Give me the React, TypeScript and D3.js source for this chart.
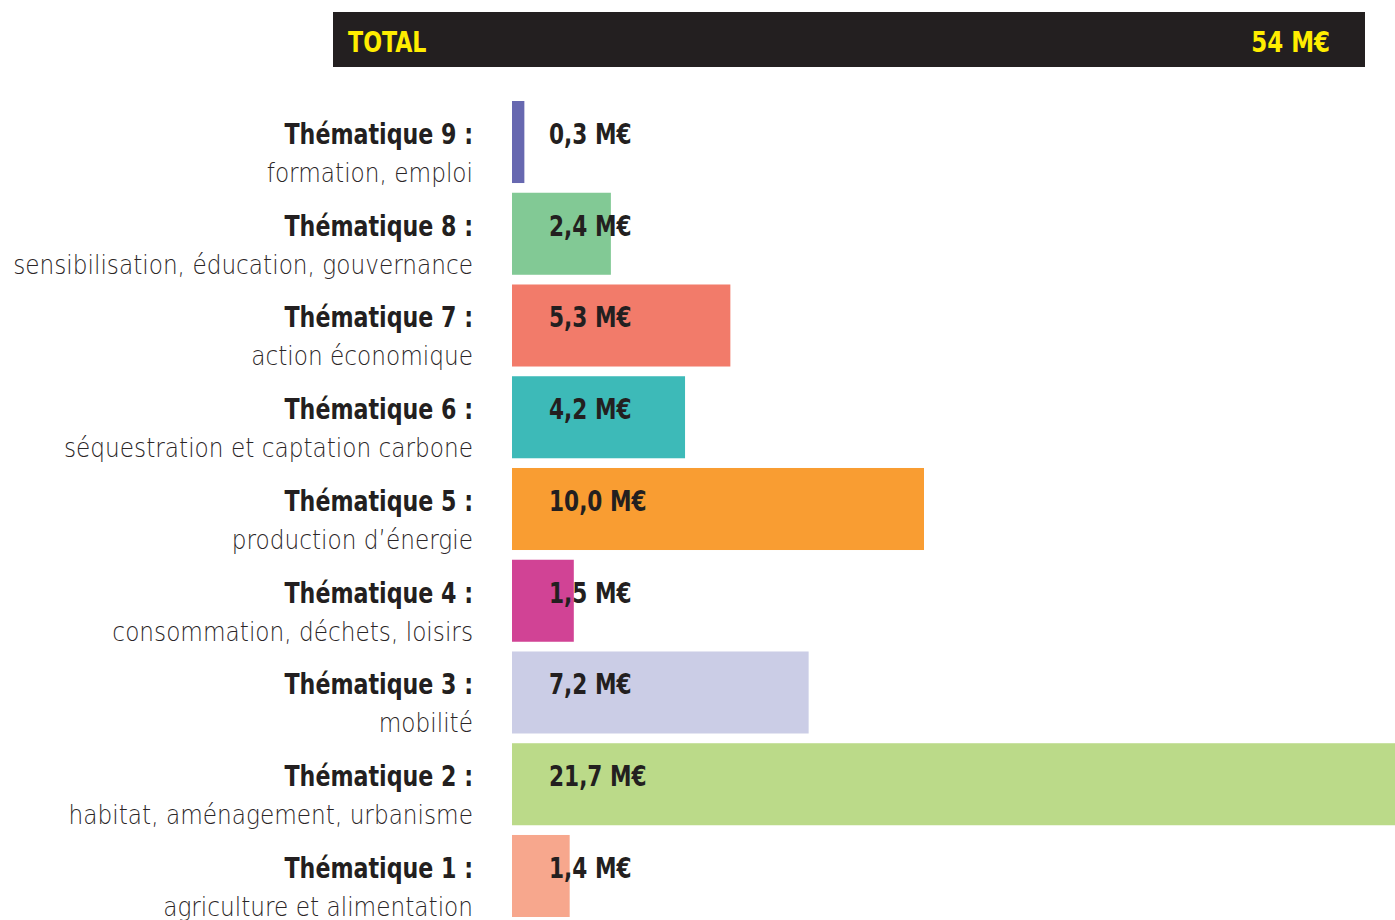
import { useEffect, useRef } from 'react';
import * as d3 from 'd3';

const themes = ['Thématique 9 :', 'Thématique 8 :', 'Thématique 7 :', 'Thématique 6 :', 'Thématique 5 :', 'Thématique 4 :', 'Thématique 3 :', 'Thématique 2 :', 'Thématique 1 :'];
const subtitles = [
  'formation, emploi',
  'sensibilisation, éducation, gouvernance',
  'action économique',
  'séquestration et captation carbone',
  'production d’énergie',
  'consommation, déchets, loisirs',
  'mobilité',
  'habitat, aménagement, urbanisme',
  'agriculture et alimentation',
];
const values = [0.3, 2.4, 5.3, 4.2, 10.0, 1.5, 7.2, 21.7, 1.4];
const valueLabels = ['0,3 M€', '2,4 M€', '5,3 M€', '4,2 M€', '10,0 M€', '1,5 M€', '7,2 M€', '21,7 M€', '1,4 M€'];
const colors = ['#6768b0', '#82c995', '#f27b6a', '#3dbab8', '#f99d32', '#d14395', '#cbcde6', '#bbda89', '#f7a78d'];
const totalLabel = 'TOTAL';
const totalValue = '54 M€';

const W = 1395;
const H = 920;
const FONT = '"DejaVu Sans", sans-serif';
const DARK = '#231f20';

const App = () => {
  const svgRef = useRef<SVGSVGElement | null>(null);

  useEffect(() => {
    if (!svgRef.current) return;
    const svg = d3.select(svgRef.current);
    svg.selectAll('*').remove();

    const x = d3.scaleLinear().domain([0, 10]).range([512, 924]);
    const y = d3.scaleBand<string>().domain(themes).range([101, 917]).paddingInner(0.106);

    // the original font is a narrow DIN-like face, so squeeze DejaVu horizontally
    const squeeze = (sx: number) => `scale(${sx},1)`;

    // header
    svg.append('rect')
      .attr('x', 333).attr('y', 12).attr('width', 1032).attr('height', 55)
      .attr('fill', DARK);
    svg.append('text')
      .attr('transform', `translate(348,52) ${squeeze(0.85)}`)
      .attr('fill', '#ffed00')
      .style('font-family', FONT).style('font-stretch', 'condensed')
      .style('font-weight', 'bold').style('font-size', '29px')
      .text(totalLabel);
    svg.append('text')
      .attr('transform', `translate(1330,52) ${squeeze(0.88)}`)
      .attr('text-anchor', 'end')
      .attr('fill', '#ffed00')
      .style('font-family', FONT).style('font-stretch', 'condensed')
      .style('font-weight', 'bold').style('font-size', '29px')
      .text(totalValue);

    const rows = svg.selectAll('g.row')
      .data(themes)
      .enter()
      .append('g')
      .attr('class', 'row');

    rows.append('rect')
      .attr('x', x(0))
      .attr('y', d => y(d)!)
      .attr('width', (d, i) => x(values[i]) - x(0))
      .attr('height', y.bandwidth())
      .attr('fill', (d, i) => colors[i]);

    rows.append('text')
      .attr('transform', d => `translate(473,${y(d)! + 43}) ${squeeze(0.88)}`)
      .attr('text-anchor', 'end')
      .attr('fill', DARK)
      .style('font-family', FONT).style('font-stretch', 'condensed')
      .style('font-weight', 'bold').style('font-size', '28px')
      .text(d => d);

    rows.append('text')
      .attr('transform', d => `translate(473,${y(d)! + 81}) ${squeeze(0.86)}`)
      .attr('text-anchor', 'end')
      .attr('fill', '#2a2526')
      .style('font-family', FONT)
      .style('font-weight', '200').style('font-size', '27px')
      .text((d, i) => subtitles[i]);

    rows.append('text')
      .attr('transform', d => `translate(549,${y(d)! + 43}) ${squeeze(0.86)}`)
      .attr('fill', DARK)
      .style('font-family', FONT).style('font-stretch', 'condensed')
      .style('font-weight', 'bold').style('font-size', '28px')
      .text((d, i) => valueLabels[i]);
  }, []);

  return (
    <div style={{ position: 'absolute', left: 0, top: 0 }}>
      <svg ref={svgRef} width={W} height={H} style={{ display: 'block', background: '#fff' }} />
    </div>
  );
};

export default App;
